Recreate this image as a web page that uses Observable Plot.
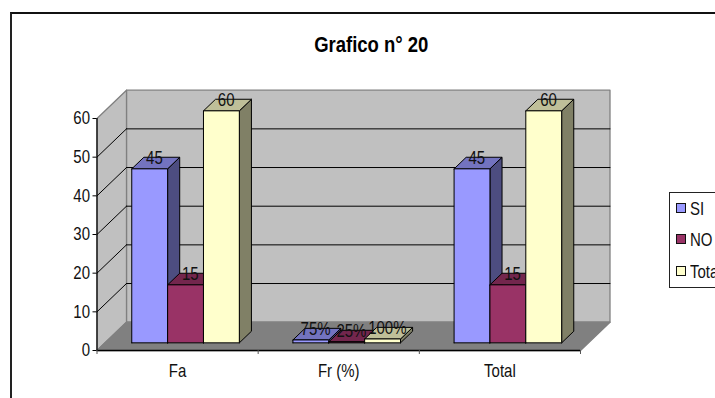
<!DOCTYPE html>
<html><head><meta charset="utf-8">
<script src="https://cdn.jsdelivr.net/npm/d3@7"></script>
<script src="https://cdn.jsdelivr.net/npm/@observablehq/plot@0.6"></script>
<style>
html,body{margin:0;padding:0;background:#fff;width:715px;height:398px;overflow:hidden}
#wrap{position:relative;width:715px;height:398px;overflow:hidden}
#chart svg{display:block;position:absolute;left:0;top:0;background:transparent}
#border{position:absolute;left:10px;top:12px;right:-5px;bottom:-5px;border-left:2px solid #222;border-top:2px solid #111}
#legend{position:absolute;left:669px;top:192px;width:70px;height:94px;border:1px solid #222;background:#fff;box-sizing:content-box;
 font:15px "Liberation Sans",sans-serif;color:#111}
.row{position:absolute;left:6px;height:20px;line-height:20px;white-space:nowrap}
.sw{display:inline-block;width:8px;height:8px;border:1px solid #111;margin-right:4px;vertical-align:1px}
.lb{display:inline-block;transform:scaleY(1.18);transform-origin:center}
</style></head><body>
<div id="wrap"><div id="border"></div><div id="chart"></div><div id="legend"></div></div>
<script>
const categories = ["Fa", "Fr (%)", "Total"];
const seriesNames = ["SI", "NO", "Total"];
const siValues = [45, 0.75, 45];
const noValues = [15, 0.25, 15];
const totalValues = [60, 1, 60];
const siLabels = ["45", "75%", "45"];
const noLabels = ["15", "25%", "15"];
const totalLabels = ["60", "100%", "60"];
const yTicks = [0, 10, 20, 30, 40, 50, 60];
const seriesColors = [
  {front: "#9999ff", top: "#7373bf", side: "#4d4d80"},
  {front: "#993366", top: "#73264d", side: "#4d1a33"},
  {front: "#ffffcc", top: "#bfbf99", side: "#808066"}
];
const font = '"Liberation Sans",Arial,sans-serif';

// oblique projection expressed in data units
const depthX = 0.183, depthY = 7.32;
const P = (x, v, d) => ({x: x + d * depthX, y: v + d * depthY});
let n = 0;
const polys = [];
function poly(points, fill, stroke) {
  const id = n++;
  const pts = [...points, points[0]];
  for (const p of pts) polys.push({...p, id, fill, stroke});
}
const maxV = 60, cats = categories.length;
poly([P(0,0,1),P(cats,0,1),P(cats,maxV,1),P(0,maxV,1)], "#c0c0c0", "#808080");
poly([P(0,0,0),P(0,0,1),P(0,maxV,1),P(0,maxV,0)], "#c0c0c0", "#808080");
poly([P(0,0,0),P(cats,0,0),P(cats,0,1),P(0,0,1)], "#808080", "#808080");
const back = yTicks.filter(t => t > 0 && t < maxV);
const gridRows = [];
back.forEach((t, i) => {
  gridRows.push({...P(0,t,0), g:"l"+i}, {...P(0,t,1), g:"l"+i});
  gridRows.push({...P(0,t,1), g:"b"+i}, {...P(cats,t,1), g:"b"+i});
});
const barW = 0.2225, dFront = 0.27, dBack = 0.68;
const labelRows = [];
const all = [siValues, noValues, totalValues];
const labs = [siLabels, noLabels, totalLabels];
categories.forEach((c, ci) => {
  all.forEach((vals, si) => {
    const x0 = ci + 0.5 - 1.5 * barW + si * barW, x1 = x0 + barW, v = vals[ci];
    const col = seriesColors[si];
    poly([P(x1,0,dFront),P(x1,0,dBack),P(x1,v,dBack),P(x1,v,dFront)], col.side, "#000");
    poly([P(x0,v,dFront),P(x1,v,dFront),P(x1,v,dBack),P(x0,v,dBack)], col.top, "#000");
    poly([P(x0,0,dFront),P(x1,0,dFront),P(x1,v,dFront),P(x0,v,dFront)], col.front, "#000");
    labelRows.push({x: P((x0+x1)/2, v, 0.43).x, y: P((x0+x1)/2, v, dBack).y, text: labs[si][ci]});
  });
});
const wallCount = 3;
const wallPolys = polys.filter(p => p.id < wallCount);
const barPolys = polys.filter(p => p.id >= wallCount);

const plot = Plot.plot({
  width: 715, height: 398,
  marginLeft: 96.5, marginBottom: 48, marginTop: 0, marginRight: 0,
  style: {fontFamily: font, background: "transparent", color: "#111"},
  x: {domain: [0, cats], range: [96.5, 580], label: null},
  y: {domain: [0, maxV], range: [350, 118], label: null},
  color: {type: "identity"},
  marks: [
    Plot.line(wallPolys, {x:"x", y:"y", z:"id", fill:"fill", stroke:"stroke", strokeWidth:1.3}),
    Plot.line(gridRows, {x:"x", y:"y", z:"g", stroke:"#000", strokeWidth:1}),
    Plot.line(barPolys, {x:"x", y:"y", z:"id", fill:"fill", stroke:"stroke", strokeWidth:1}),
    Plot.ruleX([0], {y1:0, y2:maxV, stroke:"#000", strokeWidth:1.2}),
    Plot.ruleY([0], {x1:0, x2:cats, stroke:"#000", strokeWidth:1.5}),
    Plot.axisY({ticks: yTicks, tickSize: 4, tickPadding: 3, fontSize: 15, label: null, stroke:"#000"}),
    Plot.axisX({ticks: [0,1,2,3], tickSize: 4, tickFormat: () => "", label: null, stroke:"#555"}),
    Plot.axisX({ticks: categories.map((c,i)=>i+0.5), tickSize: 0, tickPadding: 15,
      tickFormat: d => categories[Math.floor(d)], fontSize: 15, label: null}),
    Plot.text(labelRows, {x:"x", y:"y", dy: 0.5, text:"text", fontSize:15, fill:"#111"}),
    Plot.text(["Grafico n° 20"], {frameAnchor:"top", dx: -35, dy: 37, fontSize: 18.5, fontWeight:"bold", fill:"#000"})
  ]
});
document.getElementById("chart").appendChild(plot);
// the reference's lettering is taller than it is wide: stretch each text vertically about its own centre
plot.querySelectorAll("text").forEach(t => {
  const b = t.getBBox(), cx = b.x + b.width / 2, cy = b.y + b.height / 2;
  const old = t.getAttribute("transform") || "";
  t.setAttribute("transform", `${old} translate(${cx},${cy}) scale(1,1.18) translate(${-cx},${-cy})`);
});
const legend = document.getElementById("legend");
const rowTops = [6, 37, 69];
seriesNames.forEach((s, i) => {
  const r = document.createElement("div");
  r.className = "row"; r.style.top = rowTops[i] + "px";
  r.innerHTML = `<span class="sw" style="background:${seriesColors[i].front}"></span><span class="lb">${s}</span>`;
  legend.appendChild(r);
});
</script>
</body></html>
